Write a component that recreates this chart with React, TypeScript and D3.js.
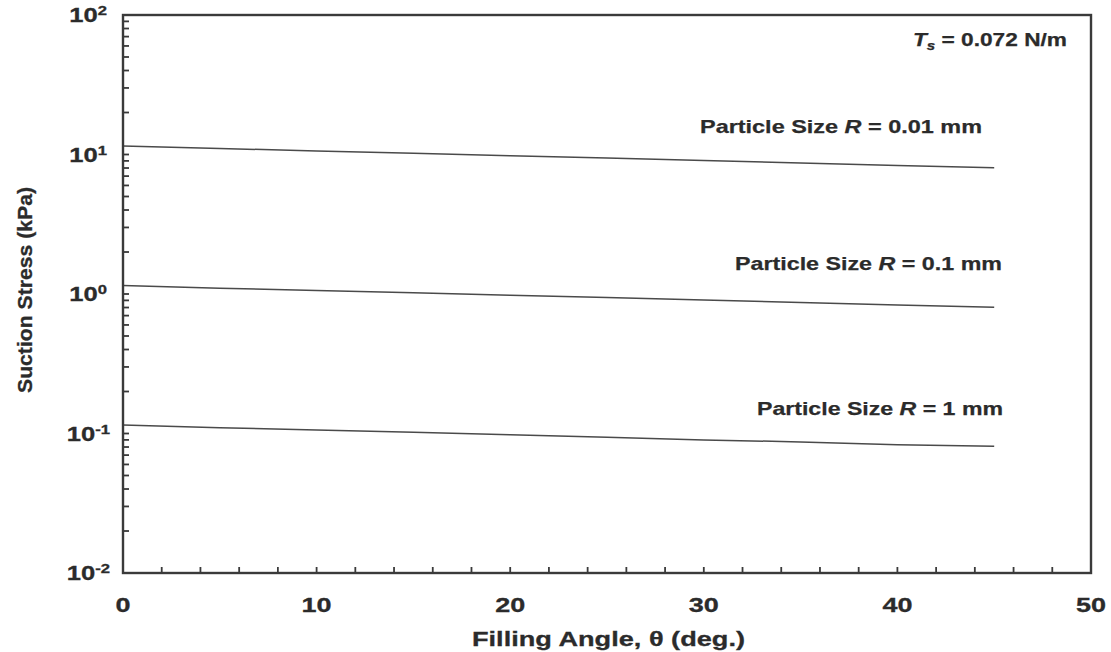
import React from "react";
import * as d3 from "d3";

const angles = [0, 5, 10, 15, 20, 25, 30, 35, 40, 45];
const stressR001 = [11.5, 11.05, 10.6, 10.2, 9.8, 9.45, 9.05, 8.7, 8.35, 8.05];
const stressR01 = [1.15, 1.1, 1.06, 1.02, 0.98, 0.945, 0.905, 0.87, 0.835, 0.805];
const stressR1 = [0.115, 0.11, 0.106, 0.102, 0.098, 0.094, 0.09, 0.087, 0.083, 0.081];
const xTickLabels = [0, 10, 20, 30, 40, 50];
const yDecadeExps = [-2, -1, 0, 1, 2];

const W = 1111, H = 652;
const L = 123, R = 1091, T = 15, B = 573;
const TEXT = "#2b2b2b";
const AX = "#3a3a3a";
const FONT = "'Liberation Sans', Arial, Helvetica, sans-serif";

export default function App() {
  const x = d3.scaleLinear().domain([0, 50]).range([L, R]);
  const y = d3.scaleLog().domain([0.01, 100]).range([B, T]);
  const line = d3
    .line<[number, number]>()
    .x((d) => x(d[0]))
    .y((d) => y(d[1]));
  const series = [stressR001, stressR01, stressR1];

  const xMinor = d3.range(0, 51, 2);
  const yMinor: number[] = [];
  for (const e of [-2, -1, 0, 1]) {
    for (let m = 1; m <= 9; m++) yMinor.push(m * Math.pow(10, e));
  }
  yMinor.push(100);

  return (
    <svg
      width={W}
      height={H}
      style={{ position: "absolute", left: 0, top: 0, display: "block", background: "#fff" }}
      fontFamily={FONT}
      fontWeight="bold"
    >
      <rect x={0} y={0} width={W} height={H} fill="#fff" />
      {xMinor.map((v) => (
        <line key={"xt" + v} x1={x(v)} x2={x(v)} y1={B} y2={B - 6} stroke={AX} strokeWidth={1.8} />
      ))}
      {yMinor.map((v, i) => (
        <line key={"yt" + i} x1={L} x2={L + 6} y1={y(v)} y2={y(v)} stroke={AX} strokeWidth={1.8} />
      ))}
      {series.map((s, i) => (
        <path
          key={"s" + i}
          d={line(angles.map((a, j) => [a, s[j]] as [number, number])) || ""}
          fill="none"
          stroke="#4a4a4a"
          strokeWidth={1.5}
        />
      ))}
      <rect x={L} y={T} width={R - L} height={B - T} fill="none" stroke={AX} strokeWidth={2.4} />
      {xTickLabels.map((v) => (
        <text
          key={"xl" + v}
          transform={`translate(${x(v)},${612}) scale(1.35,1)`}
          textAnchor="middle"
          fontSize={20}
          fill={TEXT}
          stroke={TEXT}
          strokeWidth={0.3}
        >
          {v}
        </text>
      ))}
      {yDecadeExps.map((e) => (
        <text
          key={"yl" + e}
          transform={`translate(${e < 0 ? 110 : 107},${y(Math.pow(10, e)) + 7}) scale(1.28,1)`}
          textAnchor="end"
          fontSize={20}
          fill={TEXT}
          stroke={TEXT}
          strokeWidth={0.3}
        >
          10
          <tspan dy={-7} fontSize={13}>
            {e < 0 ? "-" + Math.abs(e) : String(e)}
          </tspan>
        </text>
      ))}
      <text x={472} y={646} fontSize={21} fill={TEXT} stroke={TEXT} strokeWidth={0.3} textLength={273} lengthAdjust="spacingAndGlyphs">
        Filling Angle, θ (deg.)
      </text>
      <text
        transform="translate(32,393) rotate(-90)"
        fontSize={20.5}
        fill={TEXT}
        stroke={TEXT}
        strokeWidth={0.3}
        textLength={206}
        lengthAdjust="spacingAndGlyphs"
      >
        Suction Stress (kPa)
      </text>
      <text x={913} y={46} fontSize={18} fill={TEXT} stroke={TEXT} strokeWidth={0.25} textLength={154} lengthAdjust="spacingAndGlyphs">
        <tspan fontStyle="italic">T</tspan>
        <tspan fontStyle="italic" fontSize={12} dy={4}>s</tspan>
        <tspan dy={-4}> = 0.072 N/m</tspan>
      </text>
      <text x={700} y={133} fontSize={18.5} fill={TEXT} stroke={TEXT} strokeWidth={0.25} textLength={282} lengthAdjust="spacingAndGlyphs">
        Particle Size <tspan fontStyle="italic">R</tspan> = 0.01 mm
      </text>
      <text x={735} y={270} fontSize={18.5} fill={TEXT} stroke={TEXT} strokeWidth={0.25} textLength={267} lengthAdjust="spacingAndGlyphs">
        Particle Size <tspan fontStyle="italic">R</tspan> = 0.1 mm
      </text>
      <text x={757} y={415} fontSize={18.5} fill={TEXT} stroke={TEXT} strokeWidth={0.25} textLength={246} lengthAdjust="spacingAndGlyphs">
        Particle Size <tspan fontStyle="italic">R</tspan> = 1 mm
      </text>
    </svg>
  );
}
